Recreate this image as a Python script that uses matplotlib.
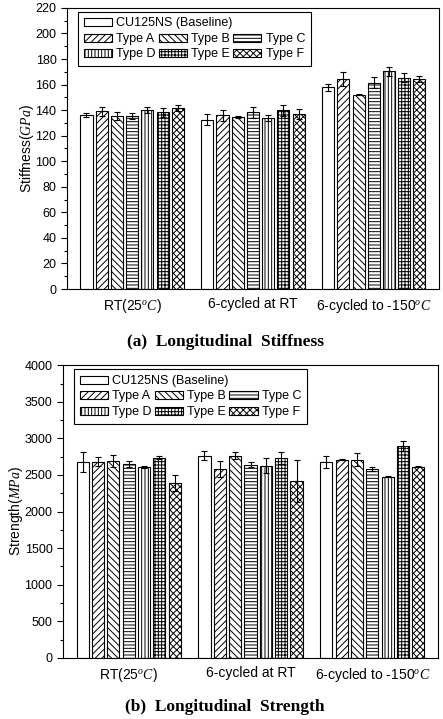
import matplotlib
matplotlib.use("Agg")
import matplotlib.pyplot as plt
import numpy as np
from matplotlib.patches import Patch
from matplotlib.ticker import MultipleLocator

plt.rcParams["font.family"] = ["Liberation Sans", "DejaVu Sans"]
plt.rcParams["mathtext.fontset"] = "custom"
plt.rcParams["mathtext.it"] = "Liberation Serif:italic"
plt.rcParams["mathtext.rm"] = "Liberation Sans"
plt.rcParams["hatch.linewidth"] = 0.7

# ---------- data ----------
conditions = ["RT(25$^{o}C$)", "6-cycled at RT", "6-cycled to -150$^{o}C$"]
series = ["CU125NS (Baseline)", "Type A", "Type B", "Type C", "Type D", "Type E", "Type F"]
hatches = ["", "/////", "\\\\\\\\\\", "-----", "|||||", "+++++", "xxxxx"]

# stiffness (GPa), rows = series, cols = conditions
stiff = [
    [136.1, 132.5, 157.8],
    [139.3, 135.9, 164.1],
    [135.4, 134.6, 152.1],
    [135.4, 138.2, 161.5],
    [140.3, 134.0, 170.4],
    [138.2, 139.8, 165.4],
    [141.6, 136.7, 164.4],
]
stiff_err = [
    [1.5, 4.5, 2.5],
    [3.5, 4.5, 5.5],
    [3.0, 0.5, 0.5],
    [2.5, 4.0, 4.5],
    [2.5, 2.5, 3.5],
    [3.5, 4.0, 3.5],
    [2.5, 4.0, 2.0],
]

# strength (MPa)
strength = [
    [2679, 2765, 2679],
    [2683, 2578, 2711],
    [2688, 2765, 2711],
    [2656, 2642, 2578],
    [2610, 2628, 2478],
    [2738, 2733, 2897],
    [2396, 2419, 2615],
]
strength_err = [
    [140, 60, 85],
    [65, 110, 5],
    [80, 45, 85],
    [40, 35, 25],
    [15, 100, 5],
    [25, 80, 70],
    [110, 290, 10],
]


def draw_panel(ax, vals, errs, ylabel, ymax, major, minor):
    x = np.arange(len(conditions))
    pitch, width = 0.126, 0.1
    for i, (name, h) in enumerate(zip(series, hatches)):
        ax.bar(x + (i - 3) * pitch, vals[i], width, yerr=errs[i],
               color="white", edgecolor="black", linewidth=0.8, hatch=h,
               error_kw={"elinewidth": 0.8, "capsize": 2.5, "capthick": 0.8,
                         "ecolor": "black"})
    ax.set_xlim(-0.54, 2.54)
    ax.set_ylim(0, ymax)
    ax.set_xticks(x)
    ax.set_xticklabels(conditions, fontsize=10)
    ax.tick_params(axis="x", length=0, pad=6)
    ax.yaxis.set_major_locator(MultipleLocator(major))
    ax.yaxis.set_minor_locator(MultipleLocator(minor))
    ax.tick_params(axis="y", which="major", length=4, width=0.8, labelsize=9, direction="out")
    ax.tick_params(axis="y", which="minor", length=2, width=0.8, direction="out")
    for s in ax.spines.values():
        s.set_linewidth(0.8)
    ax.set_ylabel(ylabel, fontsize=10, labelpad=-0.5)

    handles = [Patch(facecolor="white", edgecolor="black", linewidth=0.8, hatch=h)
               for h in hatches]
    # legend fills column-wise: reorder so rows read A B C / D E F
    order = [1, 4, 2, 5, 3, 6]
    common = dict(loc="upper left", bbox_to_anchor=(0.03, 0.986), borderaxespad=0,
                  fontsize=9, handlelength=2.25, handleheight=0.6, handletextpad=0.35,
                  labelspacing=0.28, borderpad=0.45, columnspacing=0.25)
    leg = ax.legend([handles[k] for k in order], [series[k] for k in order], ncol=3,
                    title=" ", title_fontsize=9,
                    fancybox=False, edgecolor="black", framealpha=1, **common)
    leg.get_frame().set_linewidth(0.8)
    ax.add_artist(leg)
    ax.legend(handles[:1], series[:1], frameon=False, **common)


fig = plt.figure(figsize=(4.43, 7.19), dpi=100)
ax1 = fig.add_axes([0.151, 0.598, 0.840, 0.391])
ax2 = fig.add_axes([0.142, 0.085, 0.847, 0.407])

draw_panel(ax1, stiff, stiff_err, "Stiffness($GPa$)", 220, 20, 10)
draw_panel(ax2, strength, strength_err, "Strength($MPa$)", 4000, 500, 250)

cap = dict(ha="center", va="center", fontsize=12.5, fontweight="bold",
           family=["Liberation Serif", "DejaVu Serif"])
fig.text(0.508, 1 - 342 / 719, "(a)  Longitudinal  Stiffness", **cap)
fig.text(0.508, 1 - 707 / 719, "(b)  Longitudinal  Strength", **cap)

fig.savefig("out.png", dpi=100)
